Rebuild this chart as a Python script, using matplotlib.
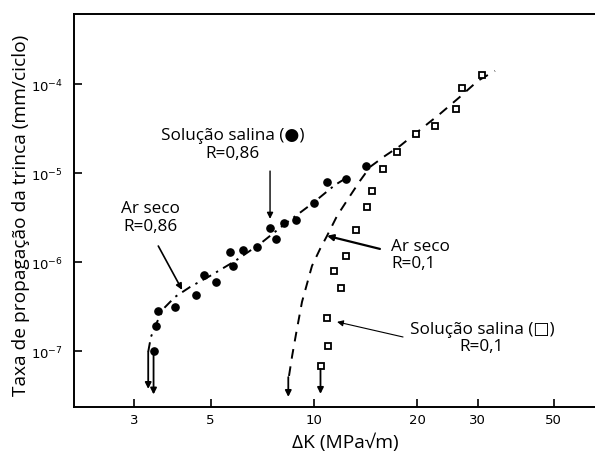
import matplotlib
matplotlib.use("Agg")
import matplotlib.pyplot as plt
from matplotlib.ticker import FixedLocator, FixedFormatter, NullLocator

# salt solution, R=0.86 (filled circles)
salt_086_dk = [3.42, 3.47, 3.52, 3.94, 4.54, 4.79, 5.19, 5.70, 5.81, 6.22,
               6.83, 7.45, 7.76, 8.18, 8.87, 10.0, 10.9, 12.4, 14.2]
salt_086_rate = [1.0e-7, 1.92e-7, 2.83e-7, 3.14e-7, 4.28e-7, 7.2e-7, 6.0e-7,
                 1.30e-6, 9.1e-7, 1.37e-6, 1.49e-6, 2.43e-6, 1.83e-6,
                 2.77e-6, 2.99e-6, 4.64e-6, 8.0e-6, 8.65e-6, 1.21e-5]

# salt solution, R=0.1 (open squares)
salt_01_dk = [10.47, 11.01, 10.94, 11.97, 11.44, 12.41, 13.23, 14.25, 14.73,
              15.86, 17.42, 19.83, 22.57, 25.87, 26.94, 30.93]
salt_01_rate = [6.75e-8, 1.13e-7, 2.36e-7, 5.18e-7, 7.91e-7, 1.17e-6, 2.31e-6,
                4.16e-6, 6.39e-6, 1.12e-5, 1.75e-5, 2.78e-5, 3.39e-5,
                5.31e-5, 9.08e-5, 1.29e-4]

# dry air, R=0.86 (dash-dot curve)
air_086_dk = [3.29, 3.35, 3.47, 3.64, 3.94, 4.36, 4.98, 5.89, 6.97, 8.24,
              9.94, 11.52, 12.57]
air_086_rate = [9.8e-8, 1.44e-7, 2.02e-7, 2.98e-7, 4.07e-7, 5.27e-7, 7.0e-7,
                1.03e-6, 1.61e-6, 2.70e-6, 4.64e-6, 7.4e-6, 9.1e-6]

# dry air, R=0.1 (dashed curve)
air_01_dk = [8.46, 8.64, 8.87, 9.23, 9.87, 10.42, 10.92, 11.68, 12.74, 13.62,
             14.57, 16.11, 17.81, 20.37, 23.29, 26.63, 30.05, 33.69]
air_01_rate = [5.25e-8, 8.82e-8, 1.56e-7, 3.57e-7, 9.08e-7, 1.41e-6, 1.98e-6,
               3.32e-6, 5.57e-6, 8.22e-6, 1.18e-5, 1.57e-5, 2.03e-5, 3.08e-5,
               4.66e-5, 7.24e-5, 1.10e-4, 1.42e-4]

# threshold arrows: (dK, start rate, end rate)
thresholds = [(3.29, 9.8e-8, 3.75e-8),
              (3.41, 9.0e-8, 3.25e-8),
              (8.42, 5.1e-8, 3.05e-8),
              (10.45, 6.3e-8, 3.3e-8)]

# labels: text, text position, arrow start, arrow tip
labels = [("Solução salina (●)\nR=0,86", (5.81, 2.14e-5), (7.45, 1.06e-5), (7.45, 3.07e-6)),
          ("Ar seco\nR=0,86", (3.33, 3.23e-6), (3.52, 1.52e-6), (4.13, 4.88e-7)),
          ("Ar seco\nR=0,1", (16.77, 1.22e-6), (15.57, 1.41e-6), (10.92, 1.98e-6)),
          ("Solução salina (□)\nR=0,1", (30.87, 1.41e-7), (18.18, 1.44e-7), (11.68, 2.13e-7))]
label_align = ["center", "center", "left", "center"]
arrow_widths = [1.0, 1.2, 1.6, 0.8]

x_ticks = [3, 5, 10, 20, 30, 50]
x_labels = ["3", "5", "10", "20", "30", "50"]
y_ticks = [1e-7, 1e-6, 1e-5, 1e-4]
y_labels = [r"$10^{-7}$", r"$10^{-6}$", r"$10^{-5}$", r"$10^{-4}$"]

txt_font = ["Open Sans", "DejaVu Sans"]
plt.rcParams["mathtext.fontset"] = "dejavusans"

fig = plt.figure(figsize=(5.95, 4.6), dpi=100)
ax = fig.add_axes([0.1244, 0.1124, 0.8756, 0.855])
ax.set_xscale("log")
ax.set_yscale("log")
ax.set_xlim(2.0, 65.9)
ax.set_ylim(2.33e-8, 6.2e-4)

ax.plot(air_086_dk, air_086_rate, color="black", lw=1.4,
        dashes=(5, 3, 1.2, 3))
ax.plot(air_01_dk, air_01_rate, color="black", lw=1.4, dashes=(5, 4))
ax.plot(salt_086_dk, salt_086_rate, "o", color="black", ms=5.2)
ax.plot(salt_01_dk, salt_01_rate, "s", mfc="white", mec="black",
        mew=1.3, ms=4.6)

for xk, y0, y1 in thresholds:
    ax.annotate("", xy=(xk, y1), xytext=(xk, y0),
                arrowprops=dict(arrowstyle="-|>", color="black", lw=1.3,
                                mutation_scale=9, shrinkA=0, shrinkB=0))

for (txt, pos, start, tip), ha, lw in zip(labels, label_align, arrow_widths):
    ax.text(pos[0], pos[1], txt, ha=ha, va="center", fontsize=12.3,
            family=txt_font, linespacing=1.1, multialignment=ha)
    ax.annotate("", xy=tip, xytext=start,
                arrowprops=dict(arrowstyle="-|>", color="black", lw=lw,
                                mutation_scale=9, shrinkA=0, shrinkB=0))

ax.xaxis.set_major_locator(FixedLocator(x_ticks))
ax.xaxis.set_major_formatter(FixedFormatter(x_labels))
ax.xaxis.set_minor_locator(NullLocator())
ax.yaxis.set_major_locator(FixedLocator(y_ticks))
ax.yaxis.set_major_formatter(FixedFormatter(y_labels))
ax.yaxis.set_minor_locator(NullLocator())

ax.tick_params(axis="x", direction="in", length=6, width=1.2, pad=4,
               labelsize=9.5)
ax.tick_params(axis="y", direction="in", length=6, width=1.2, pad=8,
               labelsize=9.5)

for side in ["left", "top", "bottom"]:
    ax.spines[side].set_linewidth(1.4)
ax.spines["right"].set_visible(False)

ax.set_xlabel("ΔK (MPa√m)", fontsize=13.8, family=txt_font)
ax.set_ylabel("Taxa de propagação da trinca (mm/ciclo)", fontsize=13.8,
              family=txt_font)
ax.xaxis.set_label_coords(0.52, -0.065)
ax.yaxis.set_label_coords(-0.084, 0.49)

fig.savefig("out.png", dpi=100)
